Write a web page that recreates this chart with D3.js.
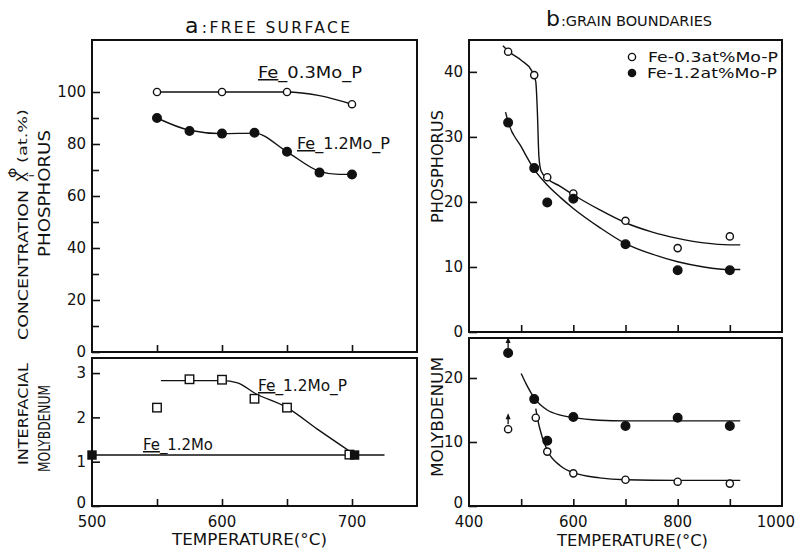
<!DOCTYPE html>
<html><head><meta charset="utf-8">
<script src="https://cdn.jsdelivr.net/npm/d3@7"></script>
<style>
html,body{margin:0;padding:0;background:#fff;}
svg text{font-family:"DejaVu Sans","Liberation Sans",sans-serif;fill:#111;}
</style></head>
<body><svg id="c" width="796" height="551"></svg>
<script>
// ---------- DATA ----------
// (a) free surface, phosphorus (at.%)
const fsTempP = [550, 600, 650, 700];
const fs03MoP = [100, 100, 100, 95.3];
const fsTemp12 = [550, 575, 600, 625, 650, 675, 700];
const fs12MoP = [90, 85, 84, 84.3, 77, 69, 68.3];
const fsCurve03T = [550, 600, 650, 675, 700];
const fsCurve03V = [100, 100, 100, 98.6, 95.3];
const fsCurve12T = [550, 575, 600, 625, 650, 675, 690, 700];
const fsCurve12V = [90, 85.3, 84, 84.2, 77, 69.5, 68.3, 68.3];
// (a) free surface, molybdenum
const fsMoTempP = [550, 575, 600, 625, 650, 698];
const fsMo12P = [2.22, 2.86, 2.85, 2.42, 2.22, 1.16];
const fsMoTemp = [500, 702];
const fsMo12 = [1.15, 1.15];
const fsMoCurvePT = [553, 600, 612, 625, 650, 675, 700];
const fsMoCurvePV = [2.83, 2.83, 2.78, 2.55, 2.22, 1.7, 1.2];
const fsMoLineT = [500, 725];
const fsMoLineV = [1.15, 1.15];
// (b) grain boundaries, phosphorus
const gbTemp = [475, 525, 550, 600, 700, 800, 900];
const gb03P = [43.1, 39.5, 23.8, 21.3, 17.1, 12.9, 14.7];
const gb12P = [32.2, 25.2, 19.9, 20.5, 13.5, 9.5, 9.5];
const gbCurve03T = [465, 475, 500, 520, 528, 531, 534, 538, 550, 575, 600, 650, 700, 750, 800, 850, 900, 920];
const gbCurve03V = [44, 43.2, 41.8, 40.2, 38.5, 34, 27, 24.8, 23.6, 22.4, 21.1, 18.8, 16.8, 15.4, 14.4, 13.7, 13.4, 13.4];
const gbCurve12T = [470, 475, 500, 525, 550, 575, 600, 650, 700, 750, 800, 850, 900, 920];
const gbCurve12V = [33.8, 32.3, 28.5, 25.0, 22.6, 20.7, 19.0, 16.1, 13.6, 12.0, 10.8, 10.0, 9.6, 9.6];
// (b) grain boundaries, molybdenum
const gbMoTemp03 = [475, 528, 550, 600, 700, 800, 900];
const gbMo03 = [12.0, 13.8, 8.5, 5.1, 4.1, 3.8, 3.5];
const gbMoTemp12 = [475, 525, 550, 600, 700, 800, 900];
const gbMo12 = [23.9, 16.7, 10.2, 13.9, 12.5, 13.8, 12.5];
const gbMoArrowT = [475];
const gbMoCurve03T = [528, 535, 550, 575, 600, 650, 700, 800, 920];
const gbMoCurve03V = [15.2, 12.3, 8.7, 6.3, 5.2, 4.4, 4.1, 4.0, 4.0];
const gbMoCurve12T = [500, 510, 525, 550, 575, 600, 650, 700, 800, 920];
const gbMoCurve12V = [20.7, 19.0, 16.9, 15.0, 14.2, 13.8, 13.4, 13.3, 13.3, 13.3];
// ticks
const ltMajor = [0, 20, 40, 60, 80, 100], ltMinor = [10, 30, 50, 70, 90];
const lbTicks = [0, 1, 2, 3];
const lxTicks = [550, 600, 650, 700], lxLabels = [500, 600, 700];
const rtTicks = [0, 10, 20, 30, 40];
const rbTicks = [0, 10, 20];
const rxTicks = [500, 600, 700, 800, 900], rxLabels = [400, 600, 800, 1000];

// ---------- SCALES ----------
const svg = d3.select("#c");
const xL = d3.scaleLinear([500, 750], [92, 417]);
const yLT = d3.scaleLinear([0, 120], [352, 40]);
const yLB = d3.scaleLinear([0, 3.34], [506, 358]);
const xR = d3.scaleLinear([400, 1000], [469, 782]);
const yRT = d3.scaleLinear([0, 44.9], [332, 40]);
const yRB = d3.scaleLinear([0, 26.25], [506, 338]);

const zip = (a, b) => a.map((d, i) => [d, b[i]]);

function frame(x, y) {
  const [x0, x1] = x.range(), [y0, y1] = y.range();
  svg.append("rect").attr("x", x0).attr("y", y1).attr("width", x1 - x0).attr("height", y0 - y1)
    .attr("fill", "none").attr("stroke", "#111").attr("stroke-width", 2);
}
function yAxis(x, y, ticks, minor, labels, zeroUp) {
  const g = svg.append("g").attr("transform", `translate(${x.range()[0]},0)`);
  const ax = d3.axisLeft(y).tickValues(ticks).tickSize(-8).tickPadding(labels ? 6 : 0)
    .tickFormat(labels ? d3.format("d") : () => "");
  g.call(ax);
  g.select(".domain").remove();
  g.selectAll("line").attr("stroke", "#111").attr("stroke-width", 1.6);
  g.selectAll("text").attr("font-size", 15).attr("fill", "#111");
  if (zeroUp) g.selectAll(".tick text").filter(d => d === 0).attr("dy", "0.1em");
  if (minor) {
    const g2 = svg.append("g").attr("transform", `translate(${x.range()[0]},0)`);
    g2.call(d3.axisLeft(y).tickValues(minor).tickSize(-7).tickFormat(() => ""));
    g2.select(".domain").remove();
    g2.selectAll("line").attr("stroke", "#111").attr("stroke-width", 1.6);
  }
}
function xTicks(x, y, ticks) {
  const g = svg.append("g").attr("transform", `translate(0,${y.range()[0]})`);
  g.call(d3.axisBottom(x).tickValues(ticks).tickSize(-7).tickFormat(() => ""));
  g.select(".domain").remove();
  g.selectAll("line").attr("stroke", "#111").attr("stroke-width", 1.6);
}
function xLabels(x, yPix, vals, maxX) {
  svg.append("g").selectAll("text").data(vals).join("text")
    .attr("x", d => maxX && x(d) + 18 > maxX ? maxX : x(d)).attr("y", yPix)
    .attr("text-anchor", d => maxX && x(d) + 18 > maxX ? "end" : "middle")
    .attr("font-size", 15).text(d => d);
}
function curve(x, y, T, V) {
  svg.append("path").datum(zip(T, V))
    .attr("d", d3.line().x(d => x(d[0])).y(d => y(d[1])).curve(d3.curveMonotoneX))
    .attr("fill", "none").attr("stroke", "#111").attr("stroke-width", 1.4);
}
function line(x, y, T, V) {
  svg.append("path").datum(zip(T, V))
    .attr("d", d3.line().x(d => x(d[0])).y(d => y(d[1])))
    .attr("fill", "none").attr("stroke", "#111").attr("stroke-width", 1.4);
}
function circles(x, y, T, V, filled) {
  svg.append("g").selectAll("circle").data(zip(T, V)).join("circle")
    .attr("cx", d => x(d[0])).attr("cy", d => y(d[1]))
    .attr("r", filled ? 4.3 : 3.6)
    .attr("fill", filled ? "#111" : "#fff").attr("stroke", "#111").attr("stroke-width", 1.4);
}
function squares(x, y, T, V, filled) {
  const s = filled ? 8 : 8.5;
  svg.append("g").selectAll("rect").data(zip(T, V)).join("rect")
    .attr("x", d => x(d[0]) - s / 2).attr("y", d => y(d[1]) - s / 2)
    .attr("width", s).attr("height", s)
    .attr("fill", filled ? "#111" : "#fff").attr("stroke", "#111").attr("stroke-width", 1.4);
}
function arrows(x, y, T, V) {
  const g = svg.append("g");
  zip(T, V).forEach(d => {
    const cx = x(d[0]), cy = y(d[1]) - 5;
    g.append("line").attr("x1", cx).attr("x2", cx).attr("y1", cy).attr("y2", cy - 9)
      .attr("stroke", "#111").attr("stroke-width", 1.3);
    g.append("path").attr("d", `M${cx},${cy - 11}L${cx - 2.5},${cy - 5}L${cx + 2.5},${cy - 5}Z`).attr("fill", "#111");
  });
}
function feLabel(x0, yb, rest, len) {
  const t = svg.append("text").attr("x", x0).attr("y", yb).attr("font-size", 15);
  t.append("tspan").attr("text-decoration", "underline").text("Fe");
  t.append("tspan").text(rest);
  if (len) t.attr("textLength", len).attr("lengthAdjust", "spacingAndGlyphs");
}
function vText(xb, yStart, yEnd, str, size) {
  svg.append("text").attr("transform", `translate(${xb},${yStart}) rotate(-90)`)
    .attr("font-size", size).attr("textLength", yStart - yEnd).attr("lengthAdjust", "spacingAndGlyphs")
    .text(str);
}

// ---------- PANEL a (top) ----------
frame(xL, yLT);
yAxis(xL, yLT, ltMajor, ltMinor, true, false);
xTicks(xL, yLT, lxTicks);
curve(xL, yLT, fsCurve03T, fsCurve03V);
curve(xL, yLT, fsCurve12T, fsCurve12V);
circles(xL, yLT, fsTempP, fs03MoP, false);
circles(xL, yLT, fsTemp12, fs12MoP, true);
feLabel(258, 78, "_0.3Mo_P", 104);
feLabel(297, 149, "_1.2Mo_P", 93);

// ---------- PANEL a (bottom) ----------
frame(xL, yLB);
yAxis(xL, yLB, lbTicks, null, true, true);
xTicks(xL, yLB, lxTicks);
line(xL, yLB, fsMoLineT, fsMoLineV);
curve(xL, yLB, fsMoCurvePT, fsMoCurvePV);
squares(xL, yLB, fsMoTempP, fsMo12P, false);
squares(xL, yLB, fsMoTemp, fsMo12, true);
feLabel(258, 391, "_1.2Mo_P", 89);
feLabel(143, 450, "_1.2Mo", 70);
xLabels(xL, 527, lxLabels);
svg.append("text").attr("x", 172).attr("y", 545).attr("font-size", 15)
  .attr("textLength", 155).attr("lengthAdjust", "spacingAndGlyphs").text("TEMPERATURE(°C)");

// ---------- PANEL b (top) ----------
frame(xR, yRT);
yAxis(xR, yRT, rtTicks, null, true, false);
xTicks(xR, yRT, rxTicks);
curve(xR, yRT, gbCurve03T, gbCurve03V);
curve(xR, yRT, gbCurve12T, gbCurve12V);
circles(xR, yRT, gbTemp, gb03P, false);
circles(xR, yRT, gbTemp, gb12P, true);
// legend
svg.append("circle").attr("cx", 632).attr("cy", 57).attr("r", 3.6).attr("fill", "#fff").attr("stroke", "#111").attr("stroke-width", 1.4);
svg.append("circle").attr("cx", 632).attr("cy", 73).attr("r", 4.3).attr("fill", "#111");
svg.append("text").attr("x", 648).attr("y", 62).attr("font-size", 13.5).attr("textLength", 130)
  .attr("lengthAdjust", "spacingAndGlyphs").text("Fe-0.3at%Mo-P");
svg.append("text").attr("x", 647).attr("y", 78).attr("font-size", 13.5).attr("textLength", 130)
  .attr("lengthAdjust", "spacingAndGlyphs").text("Fe-1.2at%Mo-P");

// ---------- PANEL b (bottom) ----------
frame(xR, yRB);
yAxis(xR, yRB, rbTicks, null, true, true);
xTicks(xR, yRB, rxTicks);
curve(xR, yRB, gbMoCurve03T, gbMoCurve03V);
curve(xR, yRB, gbMoCurve12T, gbMoCurve12V);
arrows(xR, yRB, gbMoArrowT, [gbMo03[0]]);
arrows(xR, yRB, gbMoArrowT, [gbMo12[0]]);
circles(xR, yRB, gbMoTemp03, gbMo03, false);
circles(xR, yRB, gbMoTemp12, gbMo12, true);
xLabels(xR, 527, rxLabels, 795);
svg.append("text").attr("x", 557).attr("y", 546).attr("font-size", 15)
  .attr("textLength", 151).attr("lengthAdjust", "spacingAndGlyphs").text("TEMPERATURE(°C)");

// ---------- TITLES ----------
const ta = svg.append("text").attr("x", 185).attr("y", 33).attr("textLength", 165).attr("lengthAdjust", "spacing");
ta.append("tspan").attr("font-size", 22).text("a");
ta.append("tspan").attr("font-size", 15.5).attr("dx", 1).text(":FREE  SURFACE");
const tb = svg.append("text").attr("x", 546).attr("y", 26).attr("textLength", 166).attr("lengthAdjust", "spacing");
tb.append("tspan").attr("font-size", 22).text("b");
tb.append("tspan").attr("font-size", 14.5).attr("dx", 1).text(":GRAIN  BOUNDARIES");

// ---------- VERTICAL LABELS ----------
vText(28, 465, 363, "INTERFACIAL", 14.5);
vText(28, 340, 190, "CONCENTRATION", 14.5);
const xg = svg.append("g").attr("transform", "translate(28,0) rotate(-90)");
xg.append("text").attr("x", -182).attr("y", 0).attr("font-size", 15).text("X");
xg.append("text").attr("x", -178).attr("y", -11).attr("font-size", 13).text("Φ");
xg.append("text").attr("x", -177).attr("y", 6).attr("font-size", 9).text("i");
xg.append("text").attr("x", -163).attr("y", -1).attr("font-size", 12.5)
  .attr("textLength", 54).attr("lengthAdjust", "spacingAndGlyphs").text("(at.%)");
vText(50, 257, 130, "PHOSPHORUS", 15);
vText(50, 472, 385, "MOLYBDENUM", 15);
vText(443, 223, 110, "PHOSPHORUS", 15);
vText(443, 477, 357, "MOLYBDENUM", 15);
</script></body></html>
